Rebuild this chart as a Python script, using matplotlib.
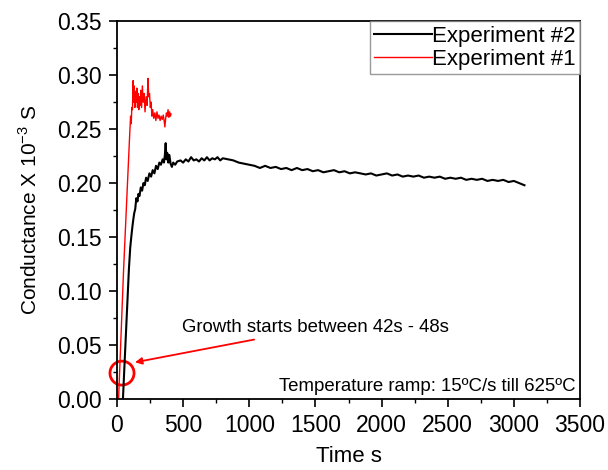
import numpy as np
import matplotlib
matplotlib.use("Agg")
import matplotlib.pyplot as plt
from matplotlib.patches import Ellipse

plt.rcParams['font.family'] = ['Liberation Sans', 'DejaVu Sans']

# Experiment #2 (black)
t_exp2 = [45, 60, 75, 90, 100, 108, 115, 122, 130, 138, 146, 155, 162, 170, 180,
          190, 200, 210, 220, 232, 245, 258, 270, 283, 295, 308, 320, 332, 345,
          355, 362, 368, 374, 380, 388, 396, 405, 415, 425, 440, 455,
          480, 500, 520, 540, 560, 580, 600, 620, 640, 660, 680, 700, 720, 740,
          760, 780, 800, 840, 880, 920, 960, 1000,
          1040, 1080, 1120, 1160, 1200, 1240, 1280, 1320, 1360, 1400, 1440, 1480,
          1520, 1560, 1600, 1640, 1680, 1720, 1760, 1800, 1840, 1880, 1920, 1960,
          2000, 2040, 2080, 2120, 2160, 2200, 2240, 2280, 2320, 2360, 2400, 2440,
          2480, 2520, 2560, 2600, 2640, 2680, 2720, 2760, 2800, 2840, 2880, 2920,
          2960, 3000, 3040, 3080]
g_exp2 = [0.0, 0.04, 0.08, 0.12, 0.14, 0.15, 0.158, 0.165, 0.172, 0.176, 0.186,
          0.183, 0.19, 0.188, 0.196, 0.193, 0.20, 0.198, 0.205, 0.202, 0.209,
          0.206, 0.212, 0.209, 0.216, 0.213, 0.219, 0.217, 0.222, 0.219, 0.226,
          0.237, 0.222, 0.228, 0.219, 0.226, 0.218, 0.215, 0.219, 0.217, 0.220,
          0.221, 0.219, 0.222, 0.220, 0.224, 0.221, 0.222, 0.220, 0.223, 0.221,
          0.224, 0.221, 0.223, 0.222, 0.224, 0.221, 0.223, 0.222,
          0.221, 0.219, 0.218, 0.217, 0.216, 0.214, 0.216, 0.214, 0.215, 0.213,
          0.214, 0.212, 0.214, 0.212, 0.213, 0.211, 0.212, 0.210, 0.211, 0.212,
          0.210, 0.211, 0.209, 0.210, 0.209, 0.208, 0.209, 0.207, 0.208, 0.209,
          0.207, 0.208, 0.206, 0.207, 0.206, 0.207, 0.205, 0.206, 0.205, 0.206,
          0.204, 0.205, 0.204, 0.205, 0.203, 0.204, 0.203, 0.204, 0.202, 0.203,
          0.202, 0.203, 0.201, 0.202, 0.200, 0.198]

# Experiment #1 (red)
t_exp1 = [12, 50, 85, 98, 103, 108, 112, 117, 122, 126, 130, 135, 140, 145, 150,
          155, 160, 165, 170, 175, 180, 186, 192, 198, 205, 212, 220, 228, 234,
          240, 246, 252, 258, 264, 270, 278, 286, 294, 302, 310, 318, 326, 334,
          342, 350, 356, 362, 368, 374, 380, 386, 392, 398, 404, 408]
g_exp1 = [0.0, 0.12, 0.215, 0.25, 0.262, 0.255, 0.27, 0.268, 0.295, 0.275, 0.29,
          0.27, 0.285, 0.275, 0.288, 0.27, 0.283, 0.268, 0.28, 0.272, 0.286, 0.27,
          0.29, 0.275, 0.283, 0.266, 0.28, 0.272, 0.297, 0.28, 0.283, 0.27, 0.275,
          0.262, 0.268, 0.26, 0.265, 0.258, 0.266, 0.26, 0.263, 0.258, 0.262,
          0.259, 0.263, 0.258, 0.252, 0.26, 0.265, 0.262, 0.268, 0.261, 0.266,
          0.262, 0.264]

fig = plt.figure(figsize=(6.08, 4.70), dpi=100)
ax = fig.add_axes([0.1924, 0.151, 0.7616, 0.804])

ax.plot(t_exp2, g_exp2, color='black', lw=1.5, label='Experiment #2')
ax.plot(t_exp1, g_exp1, color='red', lw=1.0, label='Experiment #1')

ax.set_xlim(0, 3500)
ax.set_ylim(0, 0.35)
ax.set_xticks(np.arange(0, 3501, 500))
ax.set_yticks(np.arange(0, 0.351, 0.05))
ax.set_yticklabels([f"{v:.2f}" for v in np.arange(0, 0.351, 0.05)])
ax.set_xticks(np.arange(250, 3500, 500), minor=True)
ax.set_yticks(np.arange(0.025, 0.35, 0.05), minor=True)
ax.tick_params(which='major', direction='out', length=6, width=1.2, labelsize=16.5, pad=5)
ax.tick_params(which='minor', direction='out', length=3, width=1.0)
for s in ax.spines.values():
    s.set_linewidth(1.3)

ax.set_xlabel('Time s', fontsize=16, labelpad=6)
ax.set_ylabel(r'Conductance X 10$^{\mathregular{-3}}$ S', fontsize=15, labelpad=12)

leg = ax.legend(loc='upper right', fontsize=16, frameon=True, fancybox=False,
                borderaxespad=0, handlelength=2.6, handletextpad=0,
                borderpad=0.2, labelspacing=0.1)
leg.get_frame().set_edgecolor('gray')
leg.get_frame().set_linewidth(1.0)

circ = Ellipse((38, 0.024), width=182, height=0.0222, fill=False,
               edgecolor='red', lw=2, clip_on=False)
ax.add_patch(circ)
ax.annotate('Growth starts between 42s - 48s', xy=(136, 0.034), xytext=(495, 0.066),
            fontsize=13.4, va='center', ha='left',
            arrowprops=dict(arrowstyle='-|>', color='red', lw=1.3, mutation_scale=10,
                            shrinkA=2, shrinkB=0))
ax.text(3465, 0.012, 'Temperature ramp: 15ºC/s till 625ºC', fontsize=13.4,
        ha='right', va='center')

fig.savefig('out.png', dpi=100)
